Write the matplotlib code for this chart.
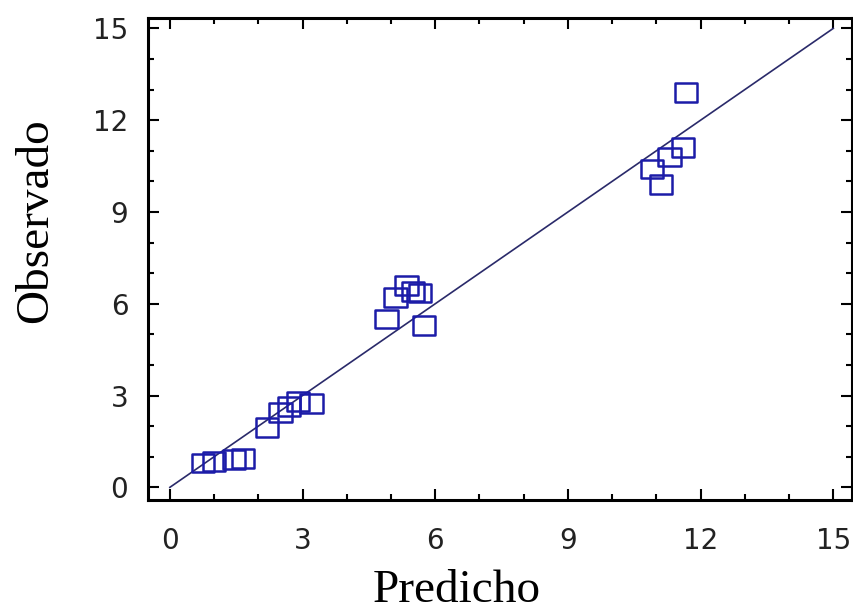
#import libraries
import numpy as np
import matplotlib.pyplot as plt
from matplotlib.path import Path
from matplotlib.ticker import MultipleLocator

predicho = [0.75, 1.0, 1.45, 1.65,
            2.2, 2.5, 2.7, 2.9, 3.2,
            4.9, 5.1, 5.35, 5.5, 5.65, 5.75,
            10.9, 11.1, 11.3, 11.6, 11.67]
observado = [0.8, 0.85, 0.9, 0.95,
             1.95, 2.45, 2.65, 2.8, 2.75,
             5.5, 6.2, 6.6, 6.4, 6.35, 5.3,
             10.4, 9.9, 10.8, 11.1, 12.9]
ticks = [0, 3, 6, 9, 12, 15]

def main():
	f = plt.figure(figsize=(8.54, 6.10), dpi=100)
	ax = f.add_axes([0.173, 0.180, 0.825, 0.790])

	#slightly wide open rectangle marker
	rect = Path([(-1.2, -1), (1.2, -1), (1.2, 1), (-1.2, 1), (-1.2, -1)],
		[Path.MOVETO, Path.LINETO, Path.LINETO, Path.LINETO, Path.CLOSEPOLY])

	#diagonal reference line
	ax.plot([0, 15], [0, 15], color='#2a2a6a', lw=1.2, zorder=2)
	ax.scatter(predicho, observado, marker=rect, s=260, facecolors='none',
		edgecolors='#1c1ca8', linewidths=1.8, zorder=3)

	ax.set_xlim(-0.5, 15.43)
	ax.set_ylim(-0.42, 15.33)
	ax.set_xticks(ticks)
	ax.set_yticks(ticks)
	ax.xaxis.set_minor_locator(MultipleLocator(1))
	ax.yaxis.set_minor_locator(MultipleLocator(1))
	ax.tick_params(which='both', direction='in', top=True, right=True, width=1.5)
	ax.tick_params(which='major', length=8)
	ax.tick_params(which='minor', length=4)
	ax.tick_params(axis='x', pad=19)
	ax.tick_params(axis='y', pad=14)
	for lab in ax.get_xticklabels() + ax.get_yticklabels():
		lab.set_fontfamily('DejaVu Sans')
		lab.set_fontsize(20)
		lab.set_color('#222222')
	for s in ax.spines.values():
		s.set_linewidth(2.2)

	ax.set_xlabel('Predicho', fontfamily='Liberation Serif', fontsize=34)
	ax.set_ylabel('Observado', fontfamily='Liberation Serif', fontsize=34)
	ax.xaxis.set_label_coords(0.439, -0.143)
	ax.yaxis.set_label_coords(-0.128, 0.581)

	plt.savefig('out.png', dpi=100)

if __name__ == "__main__":
	main()
